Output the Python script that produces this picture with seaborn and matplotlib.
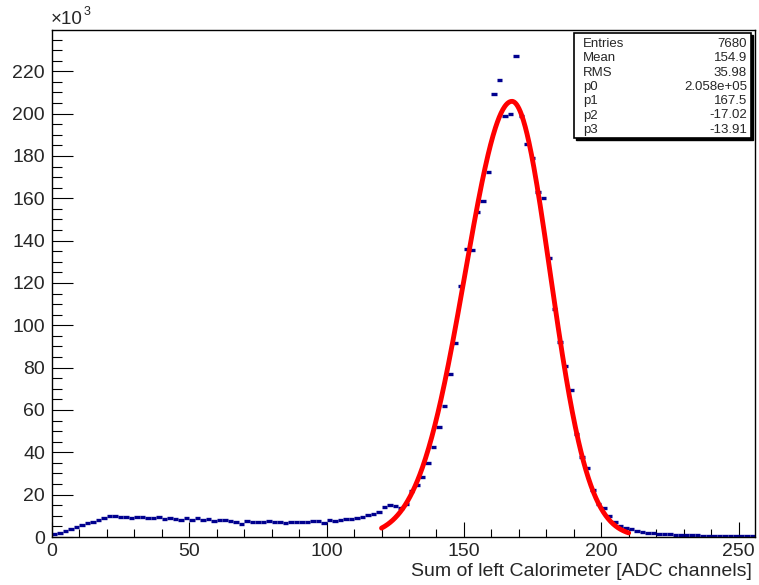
import numpy as np
import pandas as pd
import matplotlib
matplotlib.use("Agg")
import matplotlib.pyplot as plt
from matplotlib.ticker import MultipleLocator
from matplotlib.patches import Rectangle
import seaborn as sns

sns.set_style("white")
plt.rcParams['font.family'] = ['Liberation Sans', 'DejaVu Sans']

# histogram: 128 bins of width 2 ADC channels, contents in units of 10^3
BIN_WIDTH = 2
bin_centers = np.arange(1, 256, BIN_WIDTH)
counts_k = [
    1.5, 2.0, 2.8, 3.8, 4.5, 5.5, 6.5, 7.0, 8.0, 9.0,
    9.9, 9.7, 9.4, 9.3, 9.1, 9.6, 9.4, 9.0, 9.2, 9.3,
    8.6, 9.0, 8.7, 8.2, 8.8, 7.8, 8.9, 8.0, 8.3, 7.6,
    8.0, 8.1, 7.6, 7.0, 6.2, 7.5, 7.3, 7.0, 7.2, 7.5,
    7.3, 7.0, 6.8, 7.2, 7.0, 7.0, 7.3, 7.6, 7.4, 6.4,
    7.8, 7.6, 8.0, 8.3, 8.6, 9.0, 9.6, 10.2, 11.0, 11.6,
    14.0, 15.0, 14.8, 13.6, 15.6, 21.7, 24.5, 28.2, 34.9, 42.7,
    51.8, 62.0,
    77.0, 91.7, 118.8, 136.0, 135.4, 153.7, 158.7, 172.4, 209.3, 216.0,
    198.7, 200.0, 227.4, 198.7, 185.7, 179.0, 163.0, 160.0, 132.0, 107.7,
    92.0, 80.7, 69.3, 48.7, 37.8, 32.6, 22.0, 15.6, 13.7, 9.9,
    7.2, 5.2,
    4.2, 3.6, 3.0, 2.5, 2.1, 1.8, 1.6, 1.4, 1.2, 1.1,
    1.0, 0.9, 0.8, 0.8, 0.7, 0.7, 0.6, 0.6, 0.5, 0.5,
    0.5, 0.4, 0.4, 0.4,
]

# fit parameters (bifurcated gaussian), p0 in counts
P0, P1, P2, P3 = 2.058e5, 167.5, -17.02, -13.91
FIT_RANGE = (120, 210)

stat_labels = ["Entries", "Mean", "RMS", "p0", "p1", "p2", "p3"]
stat_values = ["7680", "154.9", "35.98", "2.058e+05", "167.5", "-17.02", "-13.91"]

W, H = 759, 585
NAVY = '#00008f'


def fpos(x, y):
    return x / W, 1 - y / H


def bifur_gaus(x):
    sig = np.where(x < P1, P2, P3)
    return P0 / 1000.0 * np.exp(-0.5 * ((x - P1) / sig) ** 2)


fig = plt.figure(figsize=(W / 100, H / 100), dpi=100)
ax = fig.add_axes([52 / W, 48 / H, 703 / W, 507 / H])

# histogram drawn ROOT-style as horizontal bin segments
ax.hlines(counts_k, bin_centers - BIN_WIDTH / 2, bin_centers + BIN_WIDTH / 2,
          color=NAVY, lw=2.4, zorder=2)

fx = np.linspace(FIT_RANGE[0], FIT_RANGE[1], 400)
df_fit = pd.DataFrame({'x': fx, 'y': bifur_gaus(fx)})
sns.lineplot(data=df_fit, x='x', y='y', color='#ff0000', lw=3.5, ax=ax, zorder=3)

ax.set_xlim(0, 256)
ax.set_ylim(0, 239.5)
ax.set_xlabel('')
ax.set_ylabel('')

ax.xaxis.set_major_locator(MultipleLocator(50))
ax.xaxis.set_minor_locator(MultipleLocator(10))
ax.yaxis.set_major_locator(MultipleLocator(20))
ax.yaxis.set_minor_locator(MultipleLocator(5))
ax.tick_params(axis='both', which='both', direction='in', bottom=True, left=True,
               top=False, right=False, width=0.8, color='black')
ax.tick_params(axis='x', which='major', length=11, labelsize=14, pad=4)
ax.tick_params(axis='x', which='minor', length=5.5)
ax.tick_params(axis='y', which='major', length=15, labelsize=14, pad=5)
ax.tick_params(axis='y', which='minor', length=7.5)
for s in ax.spines.values():
    s.set_color('black')
    s.set_linewidth(1.0)

fig.text(*fpos(752, 571), "Sum of left Calorimeter [ADC channels]", fontsize=14,
         ha='right', va='center')
fig.text(*fpos(51, 20), "×10", fontsize=13.5, ha='left', va='center')
fig.text(*fpos(84, 12), "3", fontsize=9, ha='left', va='center')

# stats box
bx0, by0, bx1, by1 = 574, 33, 751, 138
shadow = Rectangle(fpos(bx0 + 2, by1 + 2), (bx1 - bx0) / W, (by1 - by0) / H,
                   transform=fig.transFigure, facecolor='black', edgecolor='black', lw=1)
box = Rectangle(fpos(bx0, by1), (bx1 - bx0) / W, (by1 - by0) / H,
                transform=fig.transFigure, facecolor='white', edgecolor='black', lw=1.2)
fig.patches.extend([shadow, box])
for i, (lab, val) in enumerate(zip(stat_labels, stat_values)):
    y = 44 + i * 14.3
    fig.text(*fpos(583, y), lab, fontsize=9.5, ha='left', va='center')
    fig.text(*fpos(747, y), val, fontsize=9.5, ha='right', va='center')

fig.savefig("out.png", dpi=100)
